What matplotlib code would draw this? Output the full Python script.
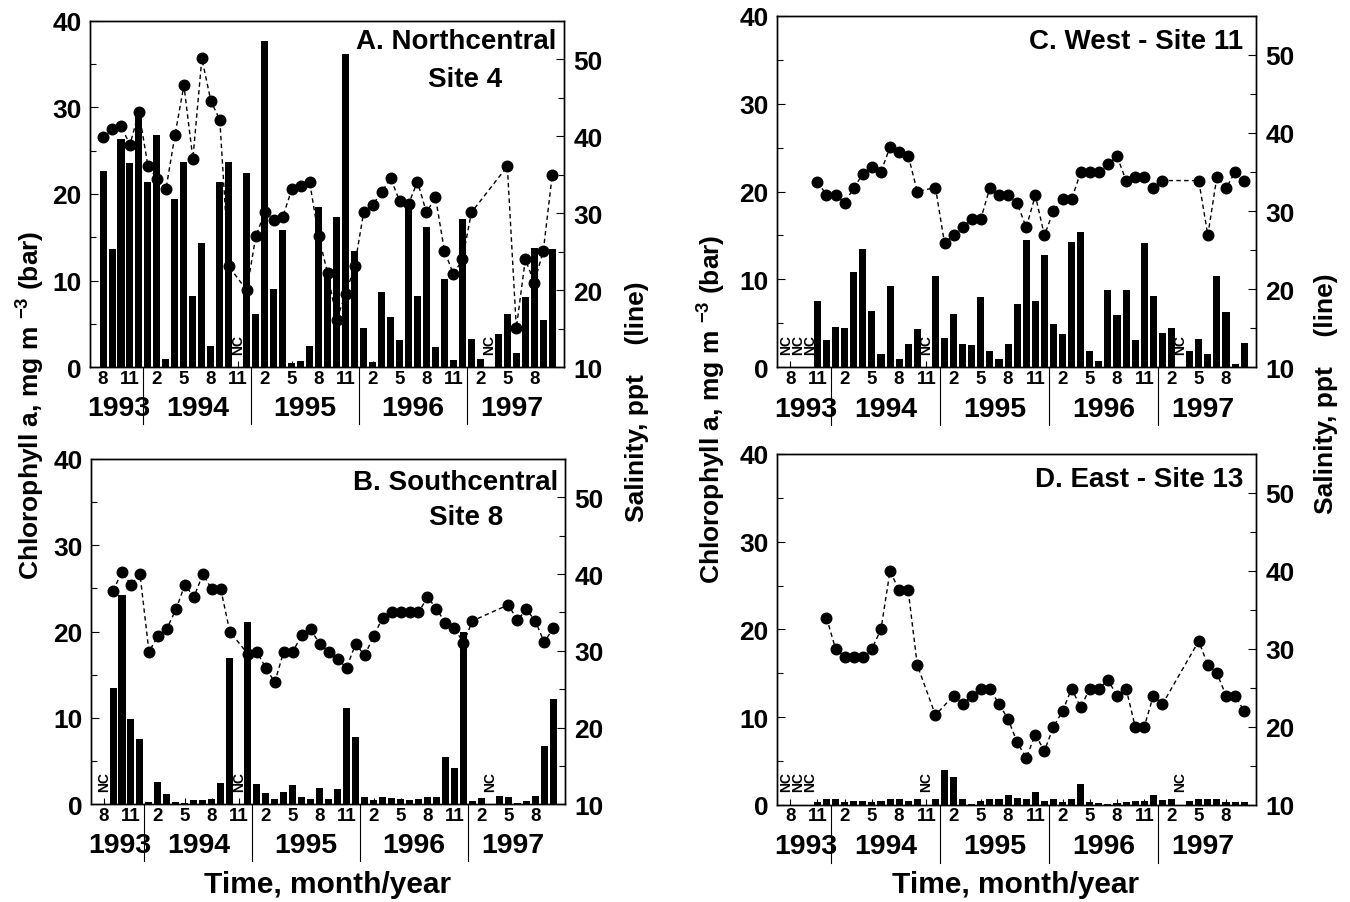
import numpy as np
import matplotlib
matplotlib.use("Agg")
import matplotlib.pyplot as plt
from matplotlib.ticker import MultipleLocator
from matplotlib.transforms import blended_transform_factory

plt.rcParams['font.family'] = ['Liberation Sans', 'DejaVu Sans']
plt.rcParams['font.weight'] = 'bold'
plt.rcParams['mathtext.fontset'] = 'custom'
plt.rcParams['mathtext.rm'] = 'Liberation Sans:bold'
plt.rcParams['mathtext.it'] = 'Liberation Sans:bold'
plt.rcParams['mathtext.bf'] = 'Liberation Sans:bold'
plt.rcParams['mathtext.default'] = 'rm'

N = None
# Months sampled: Aug 1993 ... Oct 1997 (51 months)
month_tick_labels = ['8', '11', '2', '5', '8', '11', '2', '5', '8', '11',
                     '2', '5', '8', '11', '2', '5', '8']
year_labels = ['1993', '1994', '1995', '1996', '1997']
months_in_year = [5, 12, 12, 12, 10]

# Chlorophyll a (bars), None = NC (not collected)
chl_A = [22.7, 13.6, 26.4, 23.6, 29.5, 21.4, 26.8, 1.0, 19.4, 23.7, 8.2, 14.4, 2.5,
         21.4, 23.7, N, 22.4, 6.2, 37.7, 9.0, 15.9, 0.5, 0.7, 2.5, 18.5, 11.2,
         17.4, 36.1, 13.4, 4.5, 0.6, 8.7, 5.8, 3.1, 18.8, 8.2, 16.2, 2.3, 10.2,
         0.8, 17.1, 3.3, 1.0, N, 3.8, 6.1, 1.7, 8.1, 13.8, 5.5, 13.6]
sal_A = [39.9, 40.9, 41.3, 38.9, 43.2, 36.1, 34.5, 33.1, 40.1, 46.6, 37.1, 50.1, 44.6,
         42.1, 23.1, N, 20.0, 27.0, 30.1, 29.1, 29.5, 33.1, 33.6, 34.0, 27.0, 22.2,
         16.2, 19.5, 23.1, 30.1, 31.1, 32.7, 34.6, 31.6, 31.2, 34.1, 30.1, 32.1, 25.1,
         22.1, 24.0, 30.1, N, N, N, 36.1, 15.1, 24.0, 21.0, 25.1, 35.0]

chl_B = [N, 13.5, 24.3, 9.9, 7.6, 0.3, 2.6, 1.2, 0.3, 0.2, 0.5, 0.5, 0.6,
         2.5, 16.9, N, 21.1, 2.3, 1.3, 0.6, 1.4, 2.2, 0.9, 0.6, 1.9, 0.6,
         1.8, 11.2, 7.8, 0.8, 0.5, 0.8, 0.7, 0.6, 0.5, 0.6, 0.8, 0.8, 5.5,
         4.2, 20.0, 0.4, 0.7, N, 1.0, 0.9, 0.1, 0.4, 1.0, 6.7, 12.2]
sal_B = [N, 37.8, 40.3, 38.6, 40.0, 29.9, 31.9, 32.9, 35.4, 38.6, 37.0, 40.0, 38.0,
         38.0, 32.5, N, 29.6, 29.9, 27.8, 25.9, 29.9, 29.9, 32.0, 32.8, 30.9, 29.9,
         28.9, 27.8, 30.9, 29.4, 31.9, 34.3, 35.0, 35.0, 35.0, 35.0, 37.0, 35.5, 33.6,
         33.0, 31.0, 33.9, N, N, N, 36.0, 34.0, 35.4, 33.9, 31.1, 33.0]

chl_C = [N, N, N, 7.5, 3.1, 4.6, 4.5, 10.8, 13.5, 6.4, 1.5, 9.2, 0.9,
         2.7, 4.4, N, 10.4, 3.3, 6.1, 2.6, 2.5, 8.0, 1.9, 1.0, 2.7, 7.2,
         14.5, 7.5, 12.8, 4.9, 3.8, 14.3, 15.4, 1.9, 0.7, 8.8, 6.0, 8.8, 3.1,
         14.1, 8.1, 3.9, 4.5, N, 1.9, 3.2, 1.5, 10.4, 6.3, 0.4, 2.8]
sal_C = [N, N, N, 33.7, 32.1, 32.1, 31.0, 33.0, 34.7, 35.6, 35.0, 38.2, 37.6,
         37.1, 32.5, N, 33.0, 25.9, 26.9, 28.0, 29.0, 29.0, 33.0, 32.0, 32.0, 31.0,
         27.9, 32.0, 26.9, 30.0, 31.5, 31.5, 35.0, 35.0, 35.0, 36.0, 37.0, 33.9, 34.4,
         34.4, 32.9, 33.9, N, N, N, 33.9, 26.9, 34.4, 32.9, 35.0, 33.9]

chl_D = [N, N, N, 0.3, 0.6, 0.6, 0.3, 0.45, 0.45, 0.3, 0.45, 0.6, 0.6,
         0.45, 0.7, N, 0.7, 4.0, 3.2, 0.7, 0.1, 0.45, 0.6, 0.7, 1.1, 0.8,
         0.7, 1.4, 0.45, 0.6, 0.3, 0.6, 2.4, 0.3, 0.2, 0.1, 0.2, 0.3, 0.45,
         0.45, 1.1, 0.5, 0.6, N, 0.45, 0.7, 0.7, 0.7, 0.3, 0.3, 0.3]
sal_D = [N, N, N, N, 34.0, 30.0, 29.0, 29.0, 29.0, 30.0, 32.5, 40.0, 37.5,
         37.5, 27.9, N, 21.5, N, 24.0, 22.9, 24.0, 24.9, 24.9, 22.9, 21.0, 18.0,
         16.0, 19.0, 16.9, 20.0, 22.0, 24.9, 22.5, 24.9, 24.9, 26.0, 24.0, 24.9, 20.0,
         20.0, 24.0, 22.9, N, N, N, 31.0, 27.9, 26.9, 24.0, 24.0, 22.0]

W, H = 1350, 903
fig = plt.figure(figsize=(W / 100, H / 100), dpi=100)

XLIM = (-1.45, 51.25)


def arr(v):
    return np.array([np.nan if a is None else a for a in v], dtype=float)


def panel(rect, chl, sal, titles):
    ax = fig.add_axes(rect)
    c = arr(chl)
    s = arr(sal)
    x = np.arange(len(c))
    ok = ~np.isnan(c)
    ax.bar(x[ok], c[ok], width=0.78, color='black', zorder=2)
    ax.set_xlim(*XLIM)
    ax.set_ylim(0, 40)
    ax.yaxis.set_major_locator(MultipleLocator(10))
    ax.yaxis.set_minor_locator(MultipleLocator(5))
    ticks = np.arange(0, len(c), 3)
    ax.set_xticks(ticks)
    ax.set_xticklabels(month_tick_labels)
    ax.tick_params(axis='x', direction='in', length=4, width=0.8, pad=2,
                   labelsize=13.5)
    ax.tick_params(axis='y', which='major', direction='in', length=6, width=0.8,
                   pad=6, labelsize=19)
    ax.tick_params(axis='y', which='minor', direction='in', length=4, width=0.8)
    for sp in ax.spines.values():
        sp.set_linewidth(1.0)
    for lab in ax.get_xticklabels() + ax.get_yticklabels():
        lab.set_fontweight('bold')

    tr = blended_transform_factory(ax.transData, ax.transAxes)
    # year separators and labels
    start = 0
    bounds = []
    for n in months_in_year:
        bounds.append((start - 0.5, start + n - 0.5))
        start += n
    for k, (a, b) in enumerate(bounds):
        if k > 0:
            ax.plot([a, a], [0, -0.165], transform=tr, color='black', lw=0.8,
                    clip_on=False)
        lo = max(a, XLIM[0])
        hi = min(b, XLIM[1])
        xc = (lo + hi) / 2
        if k == 0:
            xc -= 0.25
        ax.text(xc, -0.118, year_labels[k], transform=tr,
                ha='center', va='center', fontsize=20.5, fontweight='bold')

    # NC markers
    nc = list(np.where(np.isnan(c))[0])
    runs = []
    for i in nc:
        if runs and i == runs[-1][-1] + 1:
            runs[-1].append(i)
        else:
            runs.append([i])
    for run in runs:
        n = len(run)
        cen = np.mean(run) - (0.1 if n > 1 else 0)
        for k, i in enumerate(run):
            xp = cen + (k - (n - 1) / 2) * 1.3
            ax.text(xp, 0.038, 'NC', transform=tr, rotation=90, ha='center',
                    va='bottom', fontsize=10, fontweight='bold')

    ax2 = ax.twinx()
    oks = ~np.isnan(s)
    ax2.plot(x[oks], s[oks], color='black', ls=(0, (3.2, 2.4)), lw=1.0,
             marker='o', ms=7.6, mfc='black', mec='black', zorder=3)
    ax2.set_ylim(10, 55)
    ax2.set_xlim(*XLIM)
    ax2.yaxis.set_major_locator(MultipleLocator(10))
    ax2.yaxis.set_minor_locator(MultipleLocator(5))
    ax2.tick_params(axis='y', which='major', direction='in', length=6, width=0.8,
                    pad=7, labelsize=19)
    ax2.tick_params(axis='y', which='minor', direction='in', length=4, width=0.8)
    for lab in ax2.get_yticklabels():
        lab.set_fontweight('bold')
    for sp in ax2.spines.values():
        sp.set_linewidth(1.0)

    for (tx, ty, txt, ha) in titles:
        ax.text(tx, ty, txt, transform=ax.transAxes, ha=ha, va='center',
                fontsize=20, fontweight='bold', zorder=5)
    return ax, ax2


def rect(l, t, r, b):
    return [l / W, 1 - b / H, (r - l) / W, (b - t) / H]


panel(rect(90, 21.7, 563.5, 368.3), chl_A, sal_A,
      [(0.986, 0.941, 'A. Northcentral', 'right'),
       (0.792, 0.832, 'Site 4', 'center')])
panel(rect(91, 460, 564.5, 805.3), chl_B, sal_B,
      [(0.986, 0.933, 'B. Southcentral', 'right'),
       (0.792, 0.832, 'Site 8', 'center')])
panel(rect(777, 16.7, 1255.5, 368.3), chl_C, sal_C,
      [(0.975, 0.928, 'C. West - Site 11', 'right')])
panel(rect(777, 455, 1255.5, 805.7), chl_D, sal_D,
      [(0.975, 0.929, 'D. East - Site 13', 'right')])

chl_label = r'Chlorophyll a, mg m $^{-3}$ (bar)'
sal_label = 'Salinity, ppt    (line)'
fig.text(31 / W, 1 - 405 / H, chl_label, rotation=90, ha='center', va='center',
         fontsize=19, fontweight='bold')
fig.text(637 / W, 1 - 402 / H, sal_label, rotation=90, ha='center', va='center',
         fontsize=19, fontweight='bold')
fig.text(712 / W, 1 - 409 / H, chl_label, rotation=90, ha='center', va='center',
         fontsize=19, fontweight='bold')
fig.text(1326 / W, 1 - 394 / H, sal_label, rotation=90, ha='center', va='center',
         fontsize=19, fontweight='bold')
fig.text(327.5 / W, 1 - 885 / H, 'Time, month/year', ha='center', va='center',
         fontsize=21.5, fontweight='bold')
fig.text(1016 / W, 1 - 885 / H, 'Time, month/year', ha='center', va='center',
         fontsize=21.5, fontweight='bold')

fig.savefig('out.png', dpi=100)
